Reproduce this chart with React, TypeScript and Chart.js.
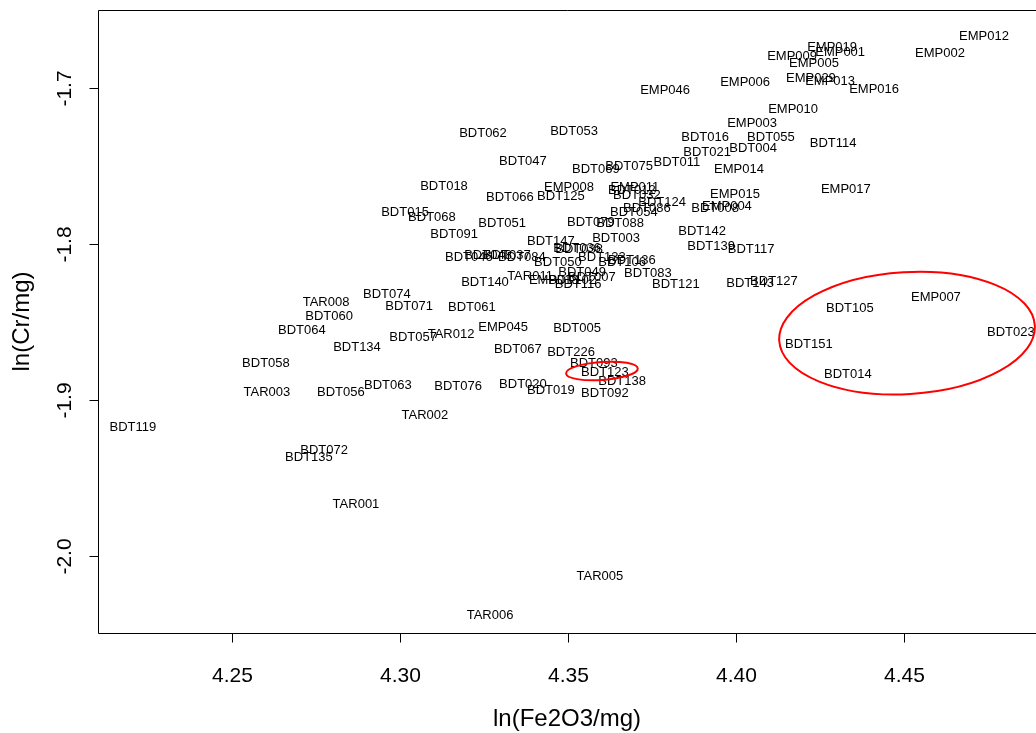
import { useEffect, useRef } from "react";
import { Chart, registerables } from "chart.js";

Chart.register(...registerables);

const sampleNames = [
  "EMP012", "EMP002", "EMP019", "EMP001", "EMP009", "EMP005", "EMP029", "EMP013", "EMP016", "EMP006",
  "EMP010", "EMP046", "EMP003", "BDT016", "BDT055", "BDT021", "BDT004", "BDT011", "EMP014", "BDT114",
  "EMP017", "EMP015", "EMP004", "BDT008", "BDT062", "BDT053", "BDT047", "BDT069", "BDT075", "BDT018",
  "EMP008", "BDT125", "BDT066", "EMP011", "BDT012", "BDT032", "BDT124", "BDT086", "BDT054", "BDT079",
  "BDT088", "BDT051", "BDT015", "BDT068", "BDT091", "BDT147", "BDT003", "BDT142", "BDT139", "BDT117",
  "BDT036", "BDT038", "BDT133", "BDT136", "BDT106", "BDT050", "BDT084", "BDT046", "BDT048", "BDT037",
  "BDT083", "BDT121", "BDT143", "BDT127", "BDT049", "BDT007", "EMP018", "BDT102", "TAR011", "BDT116",
  "BDT140", "BDT061", "BDT074", "BDT071", "TAR008", "BDT060", "BDT064", "BDT057", "TAR012", "EMP045",
  "BDT134", "BDT058", "BDT005", "BDT067", "BDT226", "BDT093", "BDT123", "BDT138", "BDT092", "BDT020",
  "BDT019", "BDT076", "BDT063", "BDT056", "TAR003", "TAR002", "BDT119", "BDT072", "BDT135", "TAR001",
  "TAR005", "TAR006", "BDT105", "EMP007", "BDT023", "BDT151", "BDT014",
];

const lnFe2O3 = [
  4.4738, 4.4607, 4.4286, 4.4310, 4.4167, 4.4232, 4.4223, 4.4280, 4.4411, 4.4027,
  4.4170, 4.3789, 4.4048, 4.3908, 4.4104, 4.3914, 4.4051, 4.3824, 4.4009, 4.4289,
  4.4327, 4.3997, 4.3973, 4.3938, 4.3247, 4.3518, 4.3366, 4.3583, 4.3682, 4.3131,
  4.3503, 4.3479, 4.3327, 4.3699, 4.3690, 4.3705, 4.3780, 4.3735, 4.3696, 4.3568,
  4.3655, 4.3304, 4.3015, 4.3095, 4.3161, 4.3449, 4.3643, 4.3899, 4.3926, 4.4045,
  4.3527, 4.3533, 4.3601, 4.3690, 4.3661, 4.3470, 4.3363, 4.3205, 4.3262, 4.3318,
  4.3738, 4.3821, 4.4042, 4.4113, 4.3542, 4.3571, 4.3458, 4.3512, 4.3387, 4.3530,
  4.3253, 4.3214, 4.2961, 4.3027, 4.2780, 4.2789, 4.2708, 4.3039, 4.3152, 4.3307,
  4.2872, 4.2601, 4.3527, 4.3351, 4.3509, 4.3577, 4.3610, 4.3661, 4.3610, 4.3366,
  4.3449, 4.3173, 4.2964, 4.2824, 4.2604, 4.3074, 4.2205, 4.2774, 4.2729, 4.2869,
  4.3595, 4.3268, 4.4339, 4.4595, 4.4818, 4.4217, 4.4333,
];

const lnCr = [
  -1.6667, -1.6776, -1.6737, -1.6769, -1.6795, -1.6840, -1.6936, -1.6955, -1.7006, -1.6962,
  -1.7135, -1.7013, -1.7224, -1.7314, -1.7314, -1.7410, -1.7385, -1.7474, -1.7519, -1.7353,
  -1.7647, -1.7679, -1.7756, -1.7769, -1.7288, -1.7276, -1.7468, -1.7519, -1.7500, -1.7628,
  -1.7635, -1.7692, -1.7699, -1.7635, -1.7654, -1.7686, -1.7731, -1.7769, -1.7795, -1.7859,
  -1.7865, -1.7865, -1.7795, -1.7827, -1.7936, -1.7981, -1.7962, -1.7917, -1.8013, -1.8032,
  -1.8026, -1.8032, -1.8083, -1.8103, -1.8115, -1.8115, -1.8083, -1.8083, -1.8071, -1.8071,
  -1.8186, -1.8256, -1.8250, -1.8237, -1.8179, -1.8212, -1.8231, -1.8231, -1.8205, -1.8256,
  -1.8244, -1.8404, -1.8321, -1.8397, -1.8372, -1.8462, -1.8551, -1.8596, -1.8577, -1.8532,
  -1.8660, -1.8763, -1.8538, -1.8673, -1.8692, -1.8763, -1.8821, -1.8878, -1.8955, -1.8897,
  -1.8936, -1.8910, -1.8904, -1.8949, -1.8949, -1.9096, -1.9173, -1.9321, -1.9365, -1.9667,
  -2.0128, -2.0378, -1.8410, -1.8340, -1.8564, -1.8641, -1.8833,
];

const xTicks = [4.25, 4.3, 4.35, 4.4, 4.45];
const xTickLabels = ["4.25", "4.30", "4.35", "4.40", "4.45"];
const yTicks = [-1.7, -1.8, -1.9, -2.0];
const yTickLabels = ["-1.7", "-1.8", "-1.9", "-2.0"];
const xTitle = "ln(Fe2O3/mg)";
const yTitle = "ln(Cr/mg)";

const xMin = 4.21012;
const xMax = 4.48929;
const yMin = -2.04936;
const yMax = -1.65;

// highlight ellipses (data units)
const ellipseCx = [4.4509, 4.3601];
const ellipseCy = [-1.8571, -1.8814];
const ellipseRx = [0.0381, 0.0107];
const ellipseRy = [0.0391, 0.00577];
const ellipseRot = [-0.06, -0.07];

const FONT = "'Liberation Sans', Arial, Helvetica, sans-serif";

const labelPlugin = {
  id: "pointLabels",
  afterDatasetsDraw(chart: any) {
    const ctx = chart.ctx;
    const meta = chart.getDatasetMeta(0);
    ctx.save();
    ctx.fillStyle = "#000";
    ctx.font = `13px ${FONT}`;
    ctx.textAlign = "center";
    ctx.textBaseline = "middle";
    meta.data.forEach((pt: any, i: number) => {
      ctx.fillText(sampleNames[i], pt.x, pt.y);
    });
    ctx.restore();
  },
};

const ellipsePlugin = {
  id: "ellipses",
  afterDraw(chart: any) {
    const { ctx, scales } = chart;
    const x = scales.x;
    const y = scales.y;
    ctx.save();
    ctx.strokeStyle = "#ff0000";
    ctx.lineWidth = 2;
    for (let i = 0; i < ellipseCx.length; i++) {
      const cx = x.getPixelForValue(ellipseCx[i]);
      const cy = y.getPixelForValue(ellipseCy[i]);
      const rx = Math.abs(x.getPixelForValue(ellipseCx[i] + ellipseRx[i]) - cx);
      const ry = Math.abs(y.getPixelForValue(ellipseCy[i] + ellipseRy[i]) - cy);
      ctx.beginPath();
      ctx.ellipse(cx, cy, rx, ry, ellipseRot[i], 0, Math.PI * 2);
      ctx.stroke();
    }
    ctx.restore();
  },
};

const axesPlugin = {
  id: "rAxes",
  afterDraw(chart: any) {
    const { ctx, chartArea: a, scales } = chart;
    const x = scales.x;
    const y = scales.y;
    const L = Math.round(a.left) + 0.5;
    const T = Math.round(a.top) + 0.5;
    const B = Math.round(a.bottom) + 0.5;
    ctx.save();
    ctx.strokeStyle = "#000";
    ctx.lineWidth = 1;
    ctx.beginPath();
    ctx.moveTo(chart.width + 10, T);
    ctx.lineTo(L, T);
    ctx.lineTo(L, B);
    ctx.lineTo(chart.width + 10, B);
    ctx.stroke();

    ctx.fillStyle = "#000";
    ctx.font = `21px ${FONT}`;
    // x ticks
    ctx.textAlign = "center";
    ctx.textBaseline = "middle";
    xTicks.forEach((v, i) => {
      const px = Math.round(x.getPixelForValue(v)) + 0.5;
      ctx.beginPath();
      ctx.moveTo(px, B);
      ctx.lineTo(px, B + 9);
      ctx.stroke();
      ctx.fillText(xTickLabels[i], px, 676);
    });
    // y ticks
    yTicks.forEach((v, i) => {
      const py = Math.round(y.getPixelForValue(v)) + 0.5;
      ctx.beginPath();
      ctx.moveTo(L, py);
      ctx.lineTo(L - 9, py);
      ctx.stroke();
      ctx.save();
      ctx.translate(65, py);
      ctx.rotate(-Math.PI / 2);
      ctx.fillText(yTickLabels[i], 0, 0);
      ctx.restore();
    });
    // titles
    ctx.font = `24px ${FONT}`;
    const midX = (a.left + chart.width) / 2;
    ctx.fillText(xTitle, midX, 719);
    ctx.save();
    ctx.translate(22, (a.top + a.bottom) / 2);
    ctx.rotate(-Math.PI / 2);
    ctx.fillText(yTitle, 0, 0);
    ctx.restore();
    ctx.restore();
  },
};

export default function App() {
  const ref = useRef<HTMLCanvasElement | null>(null);
  useEffect(() => {
    if (!ref.current) return;
    const points = lnFe2O3.map((v, i) => ({ x: v, y: lnCr[i] }));
    const chart = new Chart(ref.current, {
      type: "scatter",
      data: {
        datasets: [
          {
            label: "samples",
            data: points,
            pointRadius: 0,
            pointHoverRadius: 0,
            backgroundColor: "rgba(0,0,0,0)",
            borderColor: "rgba(0,0,0,0)",
          },
        ],
      },
      options: {
        responsive: false,
        animation: false,
        devicePixelRatio: 1,
        layout: { padding: { left: 98, top: 10, right: 0, bottom: 100 } },
        plugins: {
          legend: { display: false },
          tooltip: { enabled: false },
        },
        events: [],
        scales: {
          x: { type: "linear", min: xMin, max: xMax, display: false },
          y: { type: "linear", min: yMin, max: yMax, display: false },
        },
      },
      plugins: [labelPlugin, ellipsePlugin, axesPlugin],
    });
    return () => chart.destroy();
  }, []);
  return (
    <div style={{ position: "absolute", left: 0, top: 0, width: 1036, height: 733, background: "#fff" }}>
      <canvas ref={ref} width={1036} height={733} style={{ display: "block" }} />
    </div>
  );
}
